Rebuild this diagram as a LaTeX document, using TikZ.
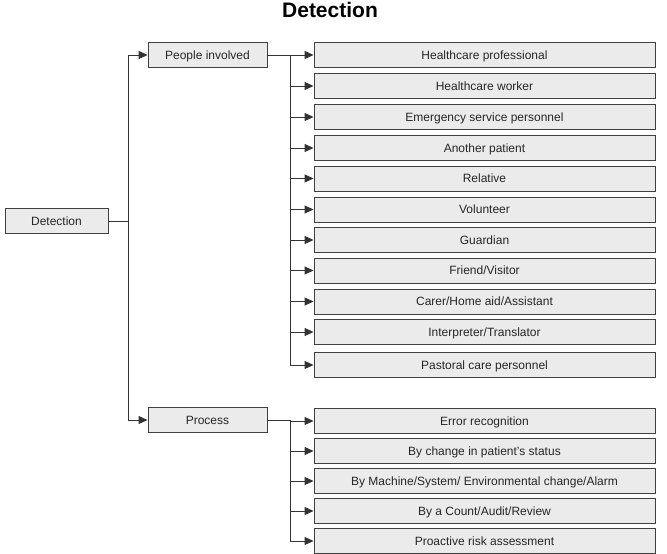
\documentclass[tikz,border=0pt]{standalone}
\usepackage{fontspec}
\setmainfont{Liberation Sans}
\usetikzlibrary{arrows.meta}

\begin{document}
\begin{tikzpicture}[x=1pt, y=-1pt,
    box/.style={draw=black!75, fill=black!8, line width=0.9pt, minimum height=25pt, inner sep=0pt, font=\fontsize{12}{14}\selectfont, text=black!85, text height=8.6pt, text depth=0.6pt, text centered},
    leftbox/.style={box, minimum width=103pt},
    midbox/.style={box, minimum width=119pt},
    itembox/.style={box, minimum width=341pt},
    arr/.style={draw=black!80, line width=0.9pt, -{Triangle[length=9pt, width=8pt]}},
    link/.style={draw=black!80, line width=0.9pt}]
      \useasboundingbox (0, 0) rectangle (667, 554);

      % Title
      \node[font=\fontsize{21}{24}\selectfont\bfseries] (title) at (330, 10) {Detection};

      % Nodes
      \node[leftbox] (detection) at (56.5, 221) {Detection};
      \node[midbox] (people) at (207.5, 55) {People involved};
      \node[midbox] (process) at (207.5, 420) {Process};

      \node[itembox] (hcprof) at (484.5, 55) {Healthcare professional};
      \node[itembox] (hcworker) at (484.5, 86) {Healthcare worker};
      \node[itembox] (emergency) at (484.5, 117) {Emergency service personnel};
      \node[itembox] (patient) at (484.5, 148) {Another patient};
      \node[itembox] (relative) at (484.5, 178.5) {Relative};
      \node[itembox] (volunteer) at (484.5, 209.5) {Volunteer};
      \node[itembox] (guardian) at (484.5, 240) {Guardian};
      \node[itembox] (friend) at (484.5, 270.5) {Friend/Visitor};
      \node[itembox] (carer) at (484.5, 301.5) {Carer/Home aid/Assistant};
      \node[itembox] (interpreter) at (484.5, 332) {Interpreter/Translator};
      \node[itembox] (pastoral) at (484.5, 365) {Pastoral care personnel};

      \node[itembox] (recognition) at (484.5, 421) {Error recognition};
      \node[itembox] (status) at (484.5, 451) {By change in patient’s status};
      \node[itembox] (machine) at (484.5, 481) {By Machine/System/ Environmental change/Alarm};
      \node[itembox] (count) at (484.5, 511) {By a Count/Audit/Review};
      \node[itembox] (proactive) at (484.5, 541) {Proactive risk assessment};

      % Branch points
      \coordinate (trunk) at (128, 221);
      \coordinate (pbranch) at (290, 55);
      \coordinate (qbranch) at (290, 421);

      % Edges
      \draw[link] (detection.east) -- (trunk);
      \draw[arr] (trunk) |- (people.west);
      \draw[arr] (trunk) |- (process.west);

      \draw[arr] (people.east) -- (hcprof.west);
      \draw[arr] (pbranch) |- (hcworker.west);
      \draw[arr] (pbranch) |- (emergency.west);
      \draw[arr] (pbranch) |- (patient.west);
      \draw[arr] (pbranch) |- (relative.west);
      \draw[arr] (pbranch) |- (volunteer.west);
      \draw[arr] (pbranch) |- (guardian.west);
      \draw[arr] (pbranch) |- (friend.west);
      \draw[arr] (pbranch) |- (carer.west);
      \draw[arr] (pbranch) |- (interpreter.west);
      \draw[arr] (pbranch) |- (pastoral.west);

      \draw[link] (process.east) -- (process.east -| qbranch) -- (qbranch);
      \draw[arr] (qbranch) -- (recognition.west);
      \draw[arr] (qbranch) |- (status.west);
      \draw[arr] (qbranch) |- (machine.west);
      \draw[arr] (qbranch) |- (count.west);
      \draw[arr] (qbranch) |- (proactive.west);
    \end{tikzpicture}
\end{document}
